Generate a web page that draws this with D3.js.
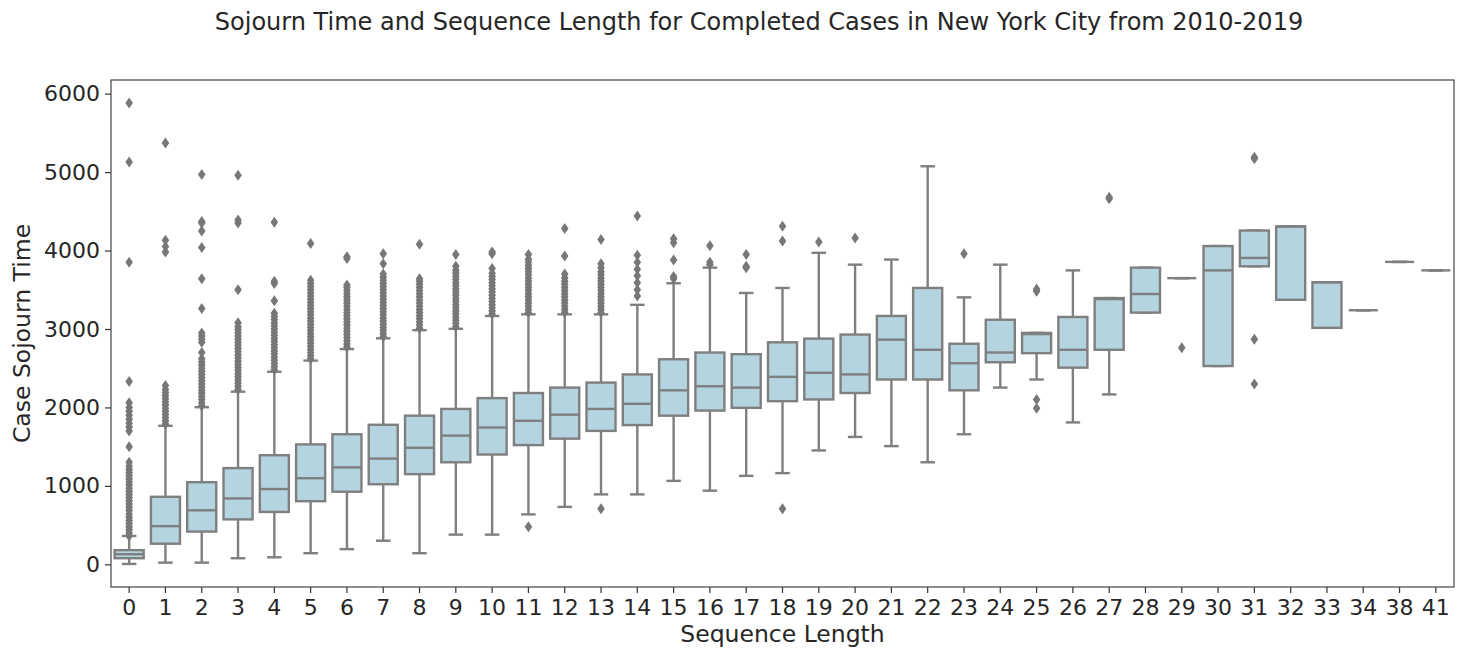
<!DOCTYPE html>
<html>
<head>
<meta charset="utf-8">
<script src="https://cdn.jsdelivr.net/npm/d3@7/dist/d3.min.js"></script>
<style>
  html, body { margin: 0; padding: 0; background: #ffffff; }
  svg { display: block; }
  text { font-family: "DejaVu Sans", sans-serif; fill: #262626; }
</style>
</head>
<body>
<svg id="chart" width="1462" height="649"></svg>
<script>
// Sequence length categories (x axis)
const categories = ["0","1","2","3","4","5","6","7","8","9","10","11","12","13","14","15","16","17","18","19","20","21","22","23","24","25","26","27","28","29","30","31","32","33","34","38","41"];

// Box statistics per category (case sojourn time)
const q1Values      = [78, 263, 418, 573, 668, 805, 926, 1021, 1150, 1301, 1400, 1520, 1602, 1701, 1775, 1895, 1960, 1995, 2080, 2102, 2184, 2356, 2356, 2218, 2576, 2692, 2507, 2735, 3209, 3648, 2528, 3799, 3372, 3015, 3239, 3855, 3747];
const medianValues  = [129, 487, 689, 840, 960, 1098, 1236, 1348, 1486, 1641, 1744, 1830, 1908, 1981, 2046, 2218, 2270, 2253, 2390, 2442, 2421, 2864, 2735, 2563, 2700, 2935, 2735, 3381, 3446, 3648, 3747, 3906, 4307, 3596, 3239, 3855, 3747];
const q3Values      = [181, 861, 1047, 1227, 1391, 1529, 1658, 1779, 1895, 1981, 2119, 2184, 2253, 2317, 2421, 2614, 2700, 2679, 2830, 2877, 2929, 3166, 3523, 2812, 3118, 2950, 3153, 3394, 3782, 3648, 4057, 4255, 4307, 3596, 3239, 3855, 3747];
const whiskerLow    = [5, 22, 22, 78, 90, 142, 194, 301, 142, 379, 379, 637, 732, 892, 892, 1064, 939, 1128, 1163, 1452, 1624, 1507, 1301, 1658, 2253, 2356, 1809, 2166, 3209, 3648, 2528, 3799, 3372, 3015, 3239, 3855, 3747];
const whiskerHigh   = [362, 1766, 2003, 2201, 2455, 2597, 2744, 2881, 2985, 3002, 3166, 3187, 3187, 3187, 3308, 3583, 3782, 3459, 3523, 3971, 3820, 3885, 5074, 3403, 3820, 2950, 3747, 3394, 3782, 3648, 4057, 4255, 4307, 3596, 3239, 3855, 3747];

// Outlying cases per category
const outliers = [
  [360, 400, 440, 480, 520, 560, 600, 640, 690, 730, 770, 810, 850, 890, 930, 970, 1010, 1050, 1090, 1130, 1170, 1210, 1250, 1300, 1500, 1700, 1750, 1800, 1850, 1900, 1950, 2000, 2060, 2330, 3850, 5130, 5880],
  [1790, 1830, 1870, 1910, 1950, 1990, 2030, 2070, 2110, 2150, 2190, 2230, 2280, 3980, 4050, 4130, 5370],
  [2020, 2060, 2100, 2140, 2180, 2220, 2260, 2300, 2340, 2380, 2420, 2460, 2500, 2540, 2580, 2620, 2700, 2830, 2870, 2910, 2950, 3260, 3640, 4040, 4250, 4350, 4370, 4970],
  [2230, 2270, 2310, 2350, 2390, 2430, 2470, 2510, 2550, 2590, 2630, 2670, 2710, 2750, 2790, 2830, 2870, 2910, 2950, 2990, 3030, 3080, 3500, 4350, 4390, 4960],
  [2480, 2520, 2560, 2600, 2640, 2680, 2720, 2760, 2800, 2840, 2880, 2920, 2960, 3000, 3040, 3080, 3120, 3160, 3200, 3360, 3580, 3610, 4360],
  [2620, 2660, 2700, 2740, 2780, 2820, 2860, 2900, 2940, 2980, 3020, 3060, 3100, 3140, 3180, 3220, 3260, 3300, 3340, 3380, 3420, 3460, 3500, 3540, 3580, 3620, 4090],
  [2770, 2810, 2850, 2890, 2930, 2970, 3010, 3050, 3090, 3130, 3170, 3210, 3250, 3290, 3330, 3370, 3410, 3450, 3490, 3530, 3560, 3900, 3920],
  [2900, 2940, 2980, 3020, 3060, 3100, 3140, 3180, 3220, 3260, 3300, 3340, 3380, 3420, 3460, 3500, 3540, 3580, 3620, 3660, 3700, 3830, 3960],
  [3010, 3050, 3090, 3130, 3170, 3210, 3250, 3290, 3330, 3370, 3410, 3450, 3490, 3530, 3570, 3610, 3640, 4080],
  [3030, 3070, 3110, 3150, 3190, 3230, 3270, 3310, 3350, 3390, 3430, 3470, 3510, 3550, 3590, 3630, 3670, 3710, 3750, 3800, 3950],
  [3190, 3230, 3270, 3310, 3350, 3390, 3430, 3470, 3510, 3550, 3590, 3630, 3670, 3710, 3770, 3960, 3980],
  [480, 3210, 3250, 3290, 3330, 3370, 3410, 3450, 3490, 3530, 3570, 3610, 3650, 3690, 3730, 3770, 3810, 3850, 3890, 3950],
  [3210, 3250, 3290, 3330, 3370, 3410, 3450, 3490, 3530, 3570, 3610, 3650, 3700, 3930, 4280],
  [710, 3210, 3250, 3290, 3330, 3370, 3410, 3450, 3490, 3530, 3570, 3610, 3650, 3690, 3730, 3780, 3830, 4140],
  [3420, 3500, 3590, 3680, 3760, 3850, 3940, 4440],
  [3640, 3670, 3880, 4100, 4150],
  [3820, 3850, 4060],
  [3780, 3800, 3950],
  [710, 4120, 4310],
  [4110],
  [4160],
  [],
  [],
  [3960],
  [],
  [3480, 3510, 2100, 1990],
  [],
  [4660, 4680],
  [],
  [2760],
  [],
  [5190, 5170, 2870, 2300],
  [], [], [], [], []
];

const yTicks = [0, 1000, 2000, 3000, 4000, 5000, 6000];

const chartTitle = "Sojourn Time and Sequence Length for Completed Cases in New York City from 2010-2019";
const xLabel = "Sequence Length";
const yLabel = "Case Sojourn Time";

const boxes = categories.map((c, i) => ({
  cat: c, q1: q1Values[i], med: medianValues[i], q3: q3Values[i],
  lo: whiskerLow[i], hi: whiskerHigh[i], out: outliers[i]
}));

const margin = { left: 111, right: 8, top: 80, bottom: 62 };
const W = 1462, H = 649;
const svg = d3.select("#chart");

const allVals = boxes.flatMap(b => [b.lo, b.hi, ...b.out]);
const vMin = d3.min(allVals), vMax = d3.max(allVals);
const pad = (vMax - vMin) * 0.05;

const x = d3.scaleBand().domain(categories).range([margin.left, W - margin.right]).padding(0);
const y = d3.scaleLinear().domain([vMin - pad, vMax + pad]).range([H - margin.bottom, margin.top]);

const lineColor = "#7f7f7f";
const boxFill = "#b4d4df";
const lw = 2.4;
const bw = x.bandwidth() * 0.8;

// Axes
const xAxis = svg.append("g")
  .attr("transform", `translate(0,${H - margin.bottom})`)
  .call(d3.axisBottom(x).tickSize(6).tickPadding(6));
const yAxis = svg.append("g")
  .attr("transform", `translate(${margin.left},0)`)
  .call(d3.axisLeft(y).tickValues(yTicks).tickFormat(d3.format("d")).tickSize(6).tickPadding(5));
[xAxis, yAxis].forEach(g => {
  g.select(".domain").remove();
  g.selectAll(".tick line").attr("stroke", "#333").attr("stroke-width", 1.2);
  g.selectAll(".tick text").attr("font-size", 22).attr("fill", "#262626")
    .attr("font-family", "DejaVu Sans, sans-serif");
});

const plot = svg.append("g");

boxes.forEach(b => {
  const cx = x(b.cat) + x.bandwidth() / 2;
  const g = plot.append("g");
  // whiskers
  g.append("line").attr("x1", cx).attr("x2", cx).attr("y1", y(b.q1)).attr("y2", y(b.lo))
    .attr("stroke", lineColor).attr("stroke-width", lw);
  g.append("line").attr("x1", cx).attr("x2", cx).attr("y1", y(b.q3)).attr("y2", y(b.hi))
    .attr("stroke", lineColor).attr("stroke-width", lw);
  // caps
  [b.lo, b.hi].forEach(v => {
    g.append("line").attr("x1", cx - bw / 4).attr("x2", cx + bw / 4).attr("y1", y(v)).attr("y2", y(v))
      .attr("stroke", lineColor).attr("stroke-width", lw);
  });
  // box
  g.append("rect").attr("x", cx - bw / 2).attr("width", bw)
    .attr("y", y(b.q3)).attr("height", Math.max(0, y(b.q1) - y(b.q3)))
    .attr("fill", boxFill).attr("stroke", lineColor).attr("stroke-width", lw);
  // median
  g.append("line").attr("x1", cx - bw / 2).attr("x2", cx + bw / 2).attr("y1", y(b.med)).attr("y2", y(b.med))
    .attr("stroke", lineColor).attr("stroke-width", lw);
  // outliers (thin diamonds)
  g.selectAll("path.flier").data(b.out).join("path")
    .attr("class", "flier")
    .attr("d", "M0,-5.5L3.8,0L0,5.5L-3.8,0Z")
    .attr("transform", v => `translate(${cx},${y(v)})`)
    .attr("fill", "#777777");
});

// Frame
svg.append("rect")
  .attr("x", margin.left).attr("y", margin.top)
  .attr("width", W - margin.right - margin.left).attr("height", H - margin.bottom - margin.top)
  .attr("fill", "none").attr("stroke", "#444").attr("stroke-width", 1.2);

// Titles and labels
svg.append("text").attr("x", 759).attr("y", 30).attr("text-anchor", "middle")
  .attr("font-size", 24).text(chartTitle);
svg.append("text").attr("x", (margin.left + W - margin.right) / 2).attr("y", 642)
  .attr("text-anchor", "middle").attr("font-size", 23.5).text(xLabel);
svg.append("text").attr("transform", `translate(30,${(margin.top + H - margin.bottom) / 2}) rotate(-90)`)
  .attr("text-anchor", "middle").attr("font-size", 23.5).text(yLabel);
</script>
</body>
</html>
